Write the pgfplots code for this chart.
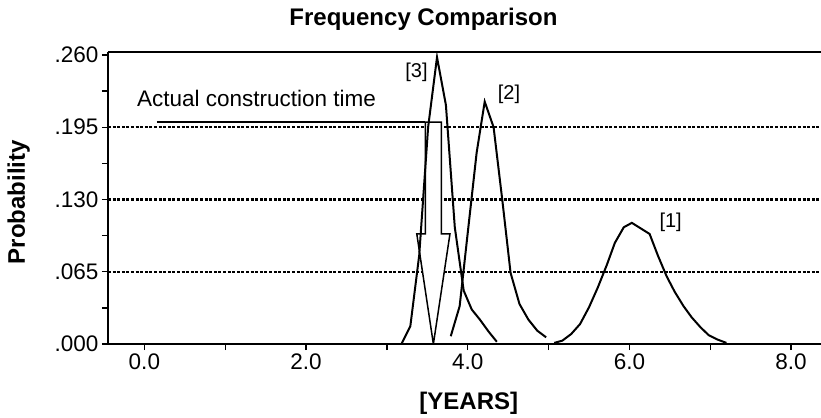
\documentclass[border=0pt]{standalone}
\usepackage{fontspec}
\setmainfont{Liberation Sans}
\usepackage{pgfplots}
\pgfplotsset{compat=1.18}
\begin{document}
\begin{tikzpicture}
\begin{axis}[
  scale only axis, width=713bp, height=292bp,
  xmin=-0.45, xmax=8.37, ymin=0, ymax=0.2627,
  axis x line*=box, axis y line*=left,
  axis line style={line width=2bp, black},
  xtick={0,2,4,6,8}, xticklabels={0.0,2.0,4.0,6.0,8.0},
  ytick={0,0.065,0.13,0.195,0.26}, yticklabels={.000,.065,.130,.195,.260},
  minor x tick num=1, minor y tick num=1,
  xtick pos=bottom,
  tick align=outside, major tick length=6bp, minor tick length=6bp,
  tick style={line width=1.4bp, black},
  /pgf/number format/assume math mode=true,
  ticklabel style={font=\fontsize{22.5bp}{24bp}\selectfont},
  extra y ticks={0.065,0.13,0.195}, extra y tick labels={},
  extra y tick style={grid=major, major tick length=0pt,
    major grid style={line width=2.2bp, dash pattern=on 3bp off 1.6bp, black}},
  title={Frequency Comparison},
  title style={font=\bfseries\fontsize{24bp}{26bp}\selectfont, at={([yshift=21bp]axis description cs:0.4425,1)}, anchor=base},
  xlabel={[YEARS]},
  xlabel style={font=\bfseries\fontsize{24bp}{26bp}\selectfont, at={([yshift=-65bp]axis description cs:0.506,0)}, anchor=base},
  ylabel={Probability},
  ylabel style={font=\bfseries\fontsize{24bp}{26bp}\selectfont, at={([xshift=-83bp]axis description cs:0,0.486)}, anchor=base},
]
% annotation line and arrow
\addplot[line width=1.5bp, black] coordinates {(0.155,0.1995) (3.475,0.1995)};
\addplot[line width=1.5bp, draw=black, fill=white] coordinates {
  (3.475,0.1995) (3.675,0.1995) (3.675,0.099) (3.78,0.099) (3.575,0) (3.37,0.099) (3.475,0.099)} -- cycle;
% curve [3]
\addplot[line width=2bp, black] coordinates {
  (3.18,0) (3.29,0.016) (3.40,0.080) (3.51,0.195) (3.62,0.258) (3.73,0.215)
  (3.84,0.105) (3.95,0.048) (4.05,0.031) (4.15,0.022) (4.26,0.011) (4.36,0.002)};
% curve [2]
\addplot[line width=2bp, black] coordinates {
  (3.79,0.007) (3.90,0.034) (4.00,0.100) (4.11,0.172) (4.21,0.218) (4.32,0.195)
  (4.43,0.128) (4.53,0.064) (4.64,0.036) (4.75,0.022) (4.86,0.012) (4.97,0.006)};
% curve [1]
\addplot[line width=2bp, black] coordinates {
  (5.07,0.001) (5.17,0.003) (5.28,0.009) (5.39,0.018) (5.50,0.033) (5.61,0.051)
  (5.72,0.071) (5.82,0.091) (5.93,0.105) (6.03,0.109) (6.14,0.104) (6.25,0.099)
  (6.35,0.080) (6.46,0.061) (6.56,0.047) (6.67,0.034) (6.77,0.024) (6.88,0.015)
  (6.98,0.008) (7.09,0.004) (7.20,0.001)};
\node[anchor=base west, inner sep=0, font=\fontsize{22.5bp}{24bp}\selectfont] at (axis cs:-0.093,0.2135) {Actual construction time};
\node[anchor=base, inner sep=0, font=\fontsize{20bp}{22bp}\selectfont] at (axis cs:3.366,0.240) {[3]};
\node[anchor=base, inner sep=0, font=\fontsize{20bp}{22bp}\selectfont] at (axis cs:4.51,0.2199) {[2]};
\node[anchor=base, inner sep=0, font=\fontsize{20bp}{22bp}\selectfont] at (axis cs:6.51,0.1044) {[1]};
\end{axis}
\pgfresetboundingbox
\path[use as bounding box] ([xshift=-108bp,yshift=-74bp]current axis.south west) rectangle ([yshift=52bp]current axis.north east);
\end{tikzpicture}
\end{document}
